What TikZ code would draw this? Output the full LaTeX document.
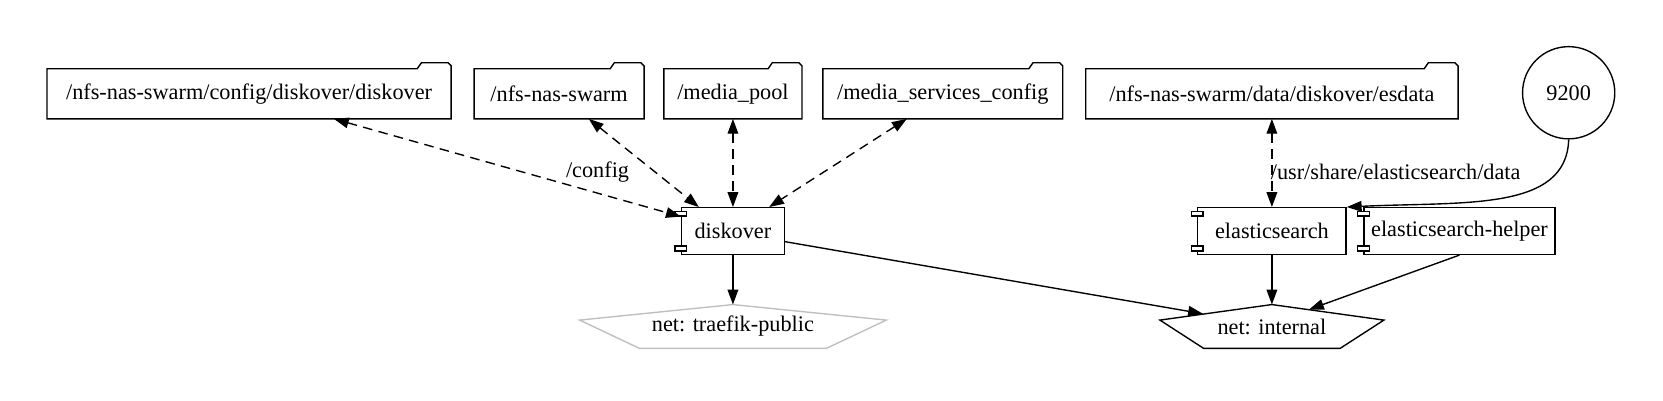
\documentclass[tikz,border=0pt]{standalone}
\usepackage{fontspec}
\setmainfont{Liberation Serif}
\usetikzlibrary{calc,arrows.meta}

\begin{document}
\begin{tikzpicture}[x=1pt, y=-1pt, line width=1.3pt, font=\fontsize{21}{25}\selectfont,
  vol/.style={minimum height=46, inner sep=0pt},
  svc/.style={draw, minimum height=44, inner sep=0pt},
  net/.style={minimum height=40, inner sep=0pt},
  mount/.style={dash pattern=on 9pt off 6pt, {Triangle[length=14pt,width=10pt]}-{Triangle[length=14pt,width=10pt]}},
  link/.style={-{Triangle[length=14pt,width=10pt]}}]
\useasboundingbox (0,0) rectangle (1569,378);

% volumes
\node[vol, minimum width=380] (cfg) at (235,88.5) {/nfs-nas-swarm/config/diskover/diskover};
\node[vol, minimum width=159] (swarm) at (527.5,88.5) {/nfs-nas-swarm};
\node[vol, minimum width=129] (media) at (691.5,88.5) {/media\_pool};
\node[vol, minimum width=225] (mcfg) at (889.5,88.5) {/media\_services\_config};
\node[vol, minimum width=350] (esdata) at (1200,88.5) {/nfs-nas-swarm/data/diskover/esdata};
\foreach \v in {cfg,swarm,media,mcfg,esdata}
  \draw (\v.south west) -- (\v.north west) -- ($(\v.north east)+(-32,0)$) -- ++(4,-5.7) -- ++(25,0) -- ++(3,3) -- (\v.south east) -- cycle;

% published port
\node[draw, circle, minimum size=87, inner sep=0pt] (p9200) at (1480,87.5) {9200};

% services
\node[svc, minimum width=97] (dk) at (691.5,218) {diskover};
\node[svc, minimum width=140] (es) at (1200,218) {elasticsearch};
\node[svc, minimum width=180] (esh) at (1377,218) {elasticsearch-helper};
\foreach \s in {dk,es,esh} {
  \draw[fill=white] ($(\s.north west)+(-5.5,4)$) rectangle ++(11,4.5);
  \draw[fill=white] ($(\s.south west)+(-5.5,-8.5)$) rectangle ++(11,4.5);
}

% networks
\node[net, minimum width=288] (pub) at (691.5,308) {net: traefik-public};
\node[net, minimum width=210] (int) at (1200,308) {net: internal};
\foreach \n/\c in {pub/lightgray,int/black}
  \draw[\c] (\n.north) -- ($(\n.west)+(0,-6)$) -- ($(\n.south west)!0.195!(\n.south east)$) -- ($(\n.south west)!0.805!(\n.south east)$) -- ($(\n.east)+(0,-6)$) -- cycle;

% mounts
\draw[mount] ($(cfg.south)+(80,0)$) -- node[pos=0.76, above=6pt] {/config} ($(dk.north west)+(0,9)$);
\draw[mount] ($(swarm.south)+(28,0)$) -- ($(dk.north west)+(17,0)$);
\draw[mount] (media.south) -- (dk.north);
\draw[mount] ($(mcfg.south)+(-34,0)$) -- ($(dk.north east)+(-15,0)$);
\draw[mount] (esdata.south) -- node[pos=0.6, right, xshift=-5pt] {/usr/share/elasticsearch/data} (es.north);

% ports and networks
\draw[link] (p9200.south) .. controls (1478,200) and (1380,190) .. (es.north east);
\draw[link] (dk.south) -- (pub.north);
\draw[link] ($(dk.east)+(0,10)$) -- ($(int.north)+(-65,8.7)$);
\draw[link] (es.south) -- (int.north);
\draw[link] (esh.south) -- ($(int.north)+(35,4.7)$);
\end{tikzpicture}
\end{document}
